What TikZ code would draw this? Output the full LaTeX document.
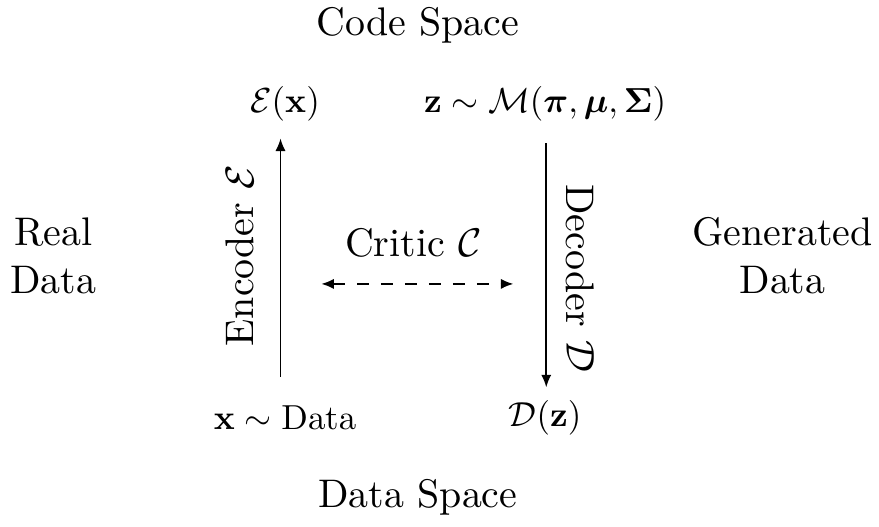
\documentclass[tikz,border=0pt]{standalone}
\usepackage{amsmath}
\usepackage{amssymb}
\usepackage{tikz}
\usetikzlibrary{arrows.meta,positioning,calc}
\tikzset{
  spacelbl/.style  = {font=\normalsize, inner sep=1pt},
  sidelbl/.style   = {align=center, inner sep=1pt},
  ptlbl/.style     = {inner sep=1pt, scale=0.87},
  maparrow/.style  = {-{Latex[length=1.1mm,width=0.9mm]}, line width=0.4pt},
  criticarrow/.style = {{Latex[length=1.1mm,width=0.9mm]}-{Latex[length=1.1mm,width=0.9mm]}, dashed, line width=0.4pt},
}

\begin{document}
\begin{tikzpicture}
\useasboundingbox (0,0) rectangle (7.74,4.64);
% spaces
\node[spacelbl] (codesp) at (3.68,4.42) {Code Space};
\node[spacelbl] (datasp) at (3.68,0.26) {Data Space};
\node[sidelbl]  (real)   at (0.47,2.39) {Real\\Data};
\node[sidelbl]  (gen)    at (6.89,2.39) {Generated\\Data};

% points
\node[ptlbl] (ex)    at (2.51,3.73) {$\mathcal{E}(\mathbf{x})$};
\node[ptlbl] (zm)    at (4.80,3.73) {$\mathbf{z}\sim\mathcal{M}(\boldsymbol{\pi},\boldsymbol{\mu},\boldsymbol{\Sigma})$};
\node[ptlbl] (xdata) at (2.51,0.96) {$\mathbf{x}\sim\mathrm{Data}$};
\node[ptlbl] (dz)    at (4.80,0.96) {$\mathcal{D}(\mathbf{z})$};

% encoder / decoder
\draw[maparrow, shorten <=0.22cm, shorten >=0.12cm] ([xshift=-0.04cm]xdata.north) -- ([xshift=-0.04cm]ex.south);
\draw[maparrow, shorten <=0.16cm, shorten >=0.08cm] ([xshift=0.01cm]zm.south) -- ([xshift=0.01cm]dz.north);
\node[rotate=90]  (enc) at (2.11,2.39) {Encoder $\mathcal{E}$};
\node[rotate=-90] (dec) at (5.11,2.19) {Decoder $\mathcal{D}$};

% critic
\node (critic) at (3.64,2.50) {Critic $\mathcal{C}$};
\coordinate (cleft)  at (2.83,2.14);
\coordinate (cright) at (4.52,2.14);
\draw[criticarrow] (cleft) -- (cright);
\end{tikzpicture}
\end{document}
